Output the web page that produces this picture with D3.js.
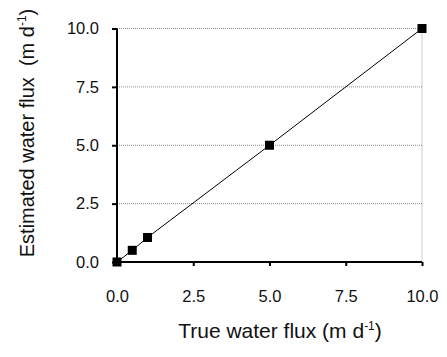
<!DOCTYPE html>
<html lang="en">
<head>
<meta charset="utf-8">
<title>Water flux</title>
<script src="https://cdn.jsdelivr.net/npm/d3@7/dist/d3.min.js"></script>
<style>
  body { margin: 0; background: #fff; }
  text { font-family: "Liberation Sans", Arial, sans-serif; fill: #111; }
</style>
</head>
<body>
<div id="chart"></div>
<script>
// values
var trueFlux = [0, 0.5, 1, 5, 10]
var estFlux = [0, 0.5, 1.05, 5, 10]
var xTicks = [0, 2.5, 5, 7.5, 10]
var yTicks = [0, 2.5, 5, 7.5, 10]

var w = 447, h = 357

var svg = d3.select("#chart").append("svg")
    .attr("width", w)
    .attr("height", h)

var x = d3.scaleLinear().domain([0, 10]).range([117, 422])
var y = d3.scaleLinear().domain([0, 10]).range([262, 28.5])

// dotted grid
svg.append("g").selectAll("line")
    .data(yTicks.filter(function(d) { return d > 0 }))
    .enter().append("line")
    .attr("x1", x(0)).attr("x2", x(10))
    .attr("y1", function(d) { return y(d) }).attr("y2", function(d) { return y(d) })
    .attr("stroke", "#888").attr("stroke-width", 1)
    .attr("stroke-dasharray", "1,1")

svg.append("line")
    .attr("x1", x(10)).attr("x2", x(10))
    .attr("y1", y(10)).attr("y2", y(0))
    .attr("stroke", "#999").attr("stroke-width", 1)
    .attr("stroke-dasharray", "1,1")

var fmt = d3.format(".1f")

var xAxis = d3.axisBottom(x).tickValues(xTicks).tickFormat(fmt).tickSize(4).tickPadding(24)
var yAxis = d3.axisLeft(y).tickValues(yTicks).tickFormat(fmt).tickSize(5).tickPadding(13)

var gx = svg.append("g").attr("transform", "translate(0," + y(0) + ")").call(xAxis)
var gy = svg.append("g").attr("transform", "translate(" + x(0) + ",0)").call(yAxis)

;[gx, gy].forEach(function(g) {
    g.select(".domain").attr("stroke", "#000").attr("stroke-width", 2)
    g.selectAll(".tick line").attr("stroke", "#000").attr("stroke-width", 2)
    g.selectAll(".tick text").attr("font-size", 16.5).attr("fill", "#111")
        .attr("font-family", "Liberation Sans, Arial, sans-serif")
})
gx.select(".domain").attr("d", "M" + x(0) + ",0H" + x(10))
gy.select(".domain").attr("d", "M0," + y(10) + "V" + y(0))

// line + markers
var pts = trueFlux.map(function(d, i) { return [d, estFlux[i]] })

svg.append("path")
    .datum(pts)
    .attr("fill", "none")
    .attr("stroke", "#000")
    .attr("stroke-width", 1)
    .attr("d", d3.line().x(function(d) { return x(d[0]) }).y(function(d) { return y(d[1]) }))

var s = 9
svg.selectAll("rect.pt")
    .data(pts)
    .enter().append("rect")
    .attr("class", "pt")
    .attr("x", function(d) { return x(d[0]) - s / 2 })
    .attr("y", function(d) { return y(d[1]) - s / 2 })
    .attr("width", s).attr("height", s)
    .attr("fill", "#000")

// axis titles
var xt = svg.append("text")
    .attr("x", 280).attr("y", 338)
    .attr("text-anchor", "middle")
    .attr("font-size", 21)
xt.append("tspan").text("True water flux (m d")
xt.append("tspan").attr("dy", -8).attr("font-size", 12).text("-1")
xt.append("tspan").attr("dy", 8).text(")")

var yt = svg.append("text")
    .attr("transform", "translate(34,133) rotate(-90)")
    .attr("text-anchor", "middle")
    .attr("font-size", 20)
    .attr("xml:space", "preserve")
yt.append("tspan").text("Estimated water flux  (m d")
yt.append("tspan").attr("dy", -8).attr("font-size", 12).text("-1")
yt.append("tspan").attr("dy", 8).text(")")
</script>
</body>
</html>
